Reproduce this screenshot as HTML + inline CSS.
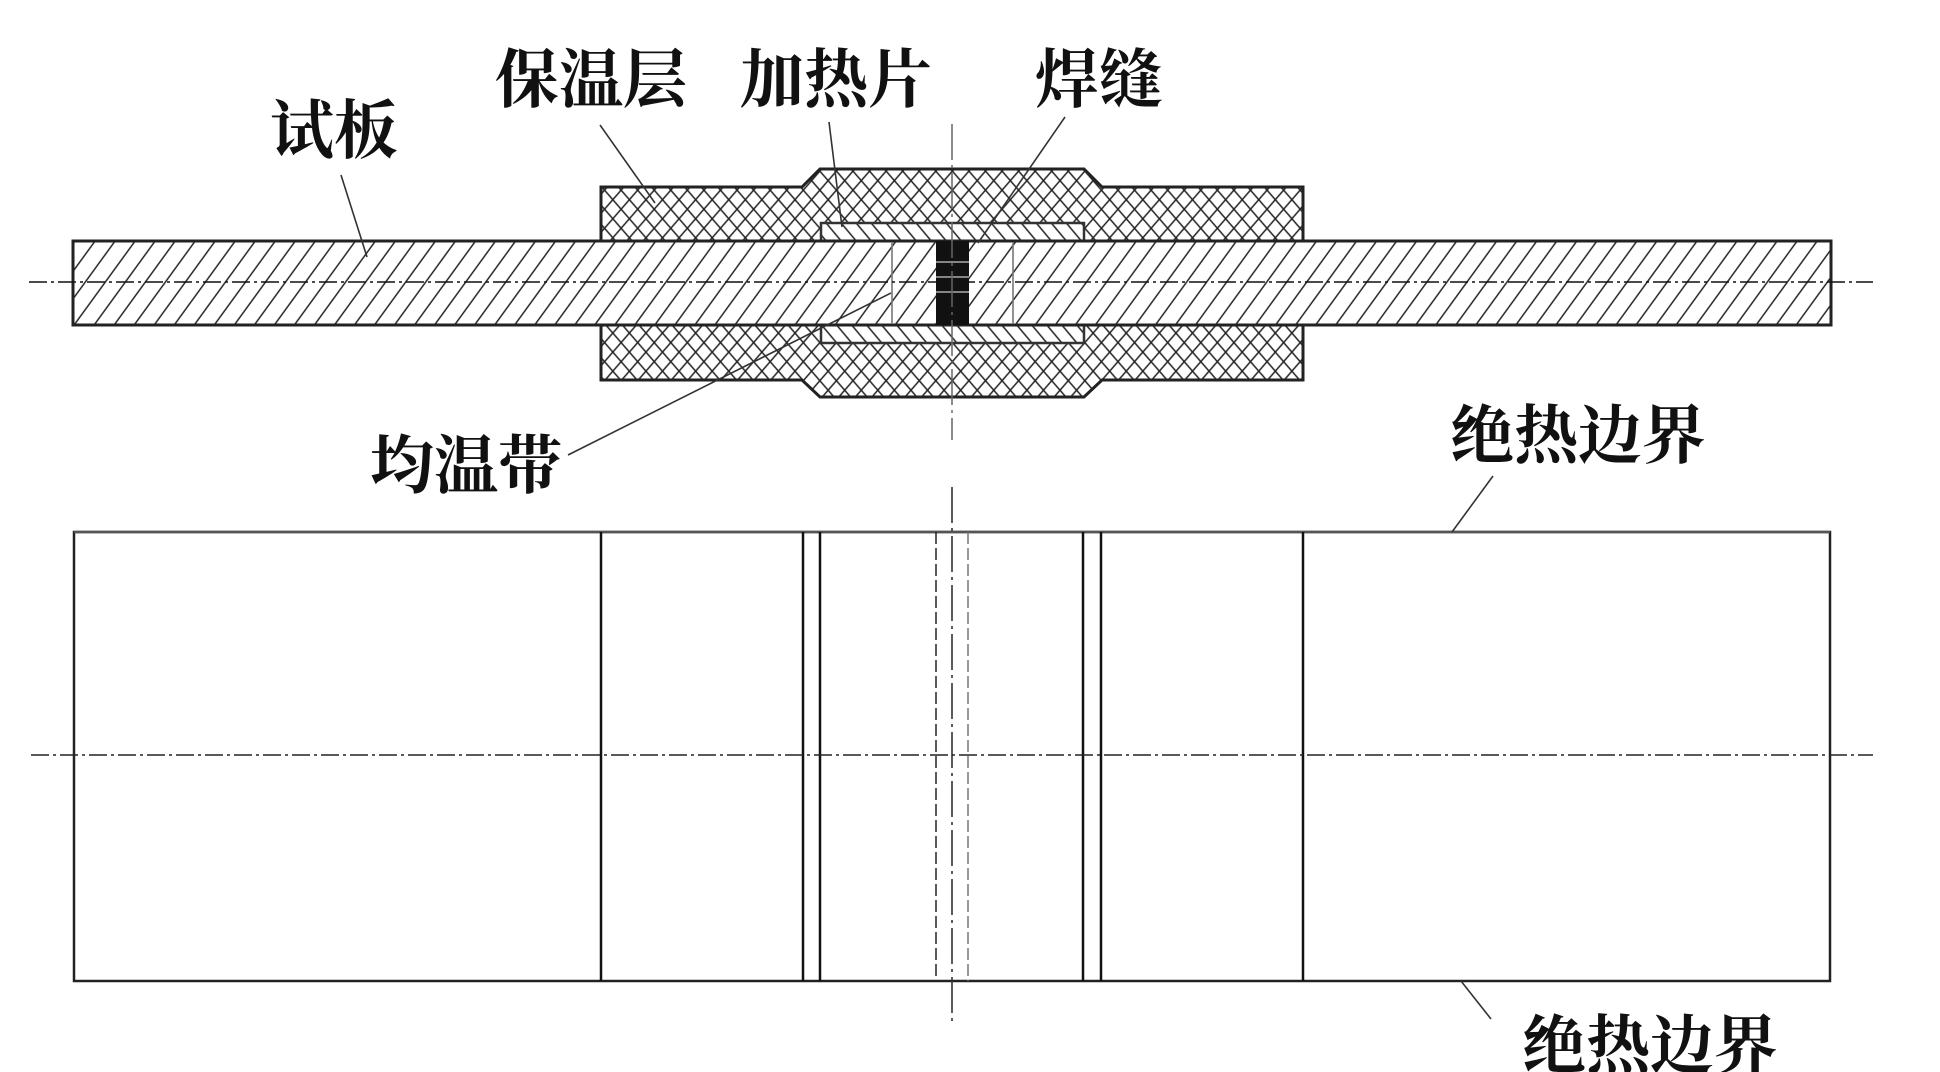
<!DOCTYPE html>
<html>
<head>
<meta charset="utf-8">
<style>
html,body{margin:0;padding:0;background:#fff;}
svg{display:block;}
text{font-family:"Liberation Serif","Noto Serif CJK SC",serif;font-weight:700;fill:#111;font-size:64px;}
</style>
</head>
<body>
<svg width="1940" height="1072" viewBox="0 0 1940 1072" xmlns="http://www.w3.org/2000/svg">
<defs>
  <pattern id="ph" patternUnits="userSpaceOnUse" width="20" height="16.2" patternTransform="rotate(-54)">
    <line x1="-2" y1="8" x2="22" y2="8" stroke="#222" stroke-width="1.4"/>
  </pattern>
  <pattern id="hh" patternUnits="userSpaceOnUse" width="20" height="11.5" patternTransform="rotate(50)">
    <line x1="-2" y1="5" x2="22" y2="5" stroke="#222" stroke-width="1.4"/>
  </pattern>
  <pattern id="xa" patternUnits="userSpaceOnUse" width="20" height="12.5" patternTransform="rotate(49)">
    <line x1="-2" y1="6" x2="22" y2="6" stroke="#222" stroke-width="1.5"/>
  </pattern>
  <pattern id="xb" patternUnits="userSpaceOnUse" width="20" height="12.5" patternTransform="rotate(-49)">
    <line x1="-2" y1="6" x2="22" y2="6" stroke="#222" stroke-width="1.5"/>
  </pattern>
</defs>

<!-- Insulation -->
<g>
  <polygon points="601,187 802,187 820,169 1084,169 1102,187 1303,187 1303,241 601,241" fill="#fff"/>
  <polygon points="601,187 802,187 820,169 1084,169 1102,187 1303,187 1303,241 601,241" fill="url(#xa)"/>
  <polygon points="601,187 802,187 820,169 1084,169 1102,187 1303,187 1303,241 601,241" fill="url(#xb)" stroke="#222" stroke-width="3"/>
  <polygon points="601,325 1303,325 1303,380 1102,380 1084,397 820,397 802,380 601,380" fill="#fff"/>
  <polygon points="601,325 1303,325 1303,380 1102,380 1084,397 820,397 802,380 601,380" fill="url(#xa)"/>
  <polygon points="601,325 1303,325 1303,380 1102,380 1084,397 820,397 802,380 601,380" fill="url(#xb)" stroke="#222" stroke-width="3"/>
</g>

<!-- Heaters -->
<rect x="821" y="223" width="263" height="18" fill="#fff"/>
<rect x="821" y="223" width="263" height="18" fill="url(#hh)" stroke="#333" stroke-width="2.5"/>
<rect x="821" y="325" width="263" height="18" fill="#fff"/>
<rect x="821" y="325" width="263" height="18" fill="url(#hh)" stroke="#333" stroke-width="2.5"/>

<!-- Plate -->
<rect x="73" y="241" width="1758" height="84" fill="#fff"/>
<rect x="73" y="241" width="1758" height="84" fill="url(#ph)" stroke="#222" stroke-width="3"/>

<!-- Uniform zone lines -->
<line x1="892" y1="242" x2="892" y2="324" stroke="#777" stroke-width="1.6"/>
<line x1="1013" y1="242" x2="1013" y2="324" stroke="#777" stroke-width="1.6"/>

<!-- Weld -->
<rect x="936" y="241" width="33" height="84" fill="#111"/>
<line x1="936" y1="262" x2="969" y2="262" stroke="#aaa" stroke-width="1.5"/>
<line x1="936" y1="277" x2="969" y2="277" stroke="#aaa" stroke-width="1.5"/>
<line x1="936" y1="292" x2="969" y2="292" stroke="#aaa" stroke-width="1.5"/>

<!-- Upper centerlines -->
<line x1="29" y1="282" x2="1873" y2="282" stroke="#111" stroke-width="1.5" stroke-dasharray="18 4 3 4"/>
<line x1="952" y1="124" x2="952" y2="440" stroke="#666" stroke-width="1.5" stroke-dasharray="36 5 3 5"/>

<!-- Lower rectangle -->
<rect x="74" y="532" width="1756" height="449" fill="none" stroke="#222" stroke-width="2.5"/>
<line x1="74" y1="532" x2="1830" y2="532" stroke="#555" stroke-width="2.5"/>
<g stroke="#111" stroke-width="2.5">
  <line x1="601" y1="532" x2="601" y2="981"/>
  <line x1="803" y1="532" x2="803" y2="981"/>
  <line x1="820" y1="532" x2="820" y2="981"/>
  <line x1="1083" y1="532" x2="1083" y2="981"/>
  <line x1="1101" y1="532" x2="1101" y2="981"/>
  <line x1="1303" y1="532" x2="1303" y2="981"/>
</g>
<line x1="936" y1="532" x2="936" y2="981" stroke="#222" stroke-width="1.5" stroke-dasharray="12 4"/>
<line x1="968" y1="532" x2="968" y2="981" stroke="#777" stroke-width="1.5" stroke-dasharray="12 4"/>
<line x1="952" y1="487" x2="952" y2="1023" stroke="#333" stroke-width="1.6" stroke-dasharray="36 5 3 5"/>
<line x1="31" y1="755" x2="1873" y2="755" stroke="#222" stroke-width="1.5" stroke-dasharray="18 4 3 4"/>

<!-- Leaders -->
<g stroke="#333" stroke-width="1.6" fill="none">
  <line x1="341" y1="175" x2="367" y2="257"/>
  <line x1="600" y1="125" x2="655" y2="203"/>
  <line x1="829" y1="122" x2="842" y2="227"/>
  <line x1="1065" y1="117" x2="978" y2="243"/>
  <line x1="568" y1="455" x2="891" y2="293"/>
  <line x1="1493" y1="476" x2="1452" y2="532"/>
  <line x1="1461" y1="981" x2="1491" y2="1019"/>
</g>

<!-- Labels -->
<text x="270" y="153">试板</text>
<text x="495" y="102">保温层</text>
<text x="740" y="102">加热片</text>
<text x="1035" y="102">焊缝</text>
<text x="370" y="488">均温带</text>
<text x="1450" y="458">绝热边界</text>
<text x="1522" y="1068">绝热边界</text>
</svg>
</body>
</html>
